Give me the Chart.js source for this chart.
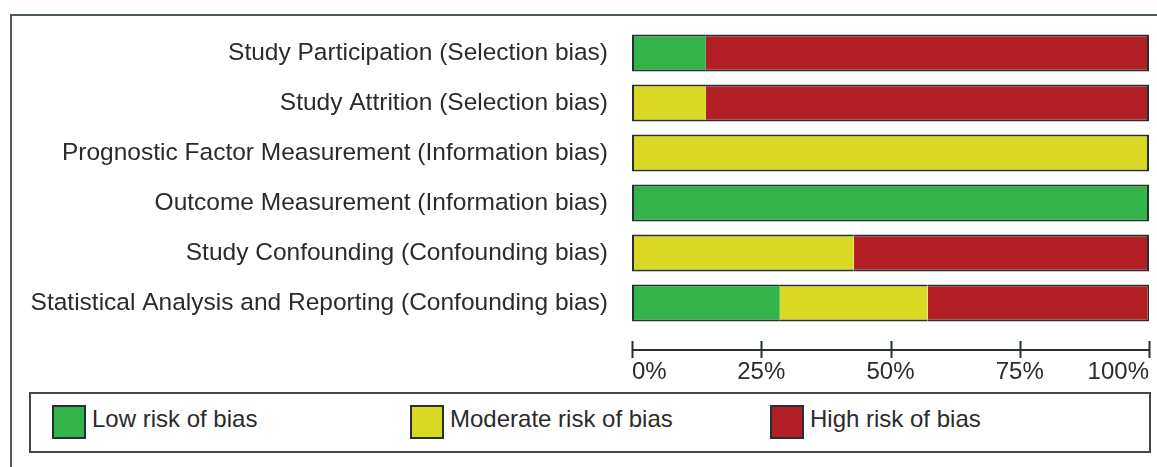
<!DOCTYPE html>
<html lang="en">
<head>
    <meta charset="UTF-8">
    <title>Risk of Bias Summary</title>
    <style>
        body {
            margin: 0;
            background-color: #ffffff;
            font-family: 'Liberation Sans', Arial, sans-serif;
            color: #2b2b2b;
            width: 1157px;
            height: 467px;
            overflow: hidden;
            position: relative;
        }
        .frame {
            position: absolute;
            left: 10px;
            top: 14px;
            width: 1200px;
            height: 500px;
            border: 2px solid #4d5a5a;
            box-sizing: border-box;
        }
        .chart-box {
            position: absolute;
            left: 0;
            top: 0;
        }
        .legend {
            position: absolute;
            left: 29px;
            top: 392px;
            width: 1122px;
            height: 61px;
            border: 2px solid #3f4a4a;
            box-sizing: border-box;
        }
        .legend-item {
            position: absolute;
            top: 11px;
            height: 33px;
            line-height: 33px;
            font-size: 24px;
            white-space: nowrap;
        }
        .legend-item span.swatch {
            position: absolute;
            left: 0;
            top: 0;
            width: 34px;
            height: 34px;
            border: 2px solid #263030;
            box-sizing: border-box;
        }
        .legend-item span.label {
            position: absolute;
            left: 40px;
            top: -3px;
        }
    </style>
    <script src="https://cdn.jsdelivr.net/npm/chart.js"></script>
</head>
<body>
    <div class="frame"></div>
    <div class="chart-box">
        <canvas id="biasChart" width="1157" height="392"></canvas>
    </div>
    <div class="legend" id="legend"></div>

    <script>
        const categories = [
            'Study Participation (Selection bias)',
            'Study Attrition (Selection bias)',
            'Prognostic Factor Measurement (Information bias)',
            'Outcome Measurement (Information bias)',
            'Study Confounding (Confounding bias)',
            'Statistical Analysis and Reporting (Confounding bias)'
        ];
        const lowRisk = [14.3, 0, 0, 100, 0, 28.6];
        const moderateRisk = [0, 14.3, 100, 0, 42.9, 28.6];
        const highRisk = [85.7, 85.7, 0, 0, 57.1, 42.9];
        const seriesNames = ['Low risk of bias', 'Moderate risk of bias', 'High risk of bias'];
        const seriesColors = ['#33b44a', '#d9d923', '#b21f25'];
        const tickValues = [0, 25, 50, 75, 100];

        const allSeries = [lowRisk, moderateRisk, highRisk];
        const lineColor = '#263030';

        // outline only the outer edges of each stacked bar
        function segmentBorder(ctx) {
            const i = ctx.dataIndex;
            const d = ctx.datasetIndex;
            const vals = allSeries.map(s => s[i]);
            if (!vals[d]) return 0;
            let first = vals.findIndex(v => v > 0);
            let last = vals.length - 1;
            while (last > 0 && !vals[last]) last--;
            return {
                top: 2,
                bottom: 2,
                left: d === first ? 2 : 0,
                right: d === last ? 2 : 0
            };
        }

        // axis line and tick marks sit below the bars, with a gap
        const axisLine = {
            id: 'axisLine',
            afterDraw(chart) {
                const x = chart.scales.x;
                const c = chart.ctx;
                const y = 350;
                c.save();
                c.strokeStyle = lineColor;
                c.lineWidth = 2;
                c.beginPath();
                c.moveTo(x.getPixelForValue(0), y);
                c.lineTo(x.getPixelForValue(100), y);
                tickValues.forEach(v => {
                    const px = Math.round(x.getPixelForValue(v)) + 0.5;
                    c.moveTo(px, y - 9);
                    c.lineTo(px, y + 8);
                });
                c.stroke();
                c.restore();
            }
        };

        const datasets = allSeries.map((data, k) => ({
            label: seriesNames[k],
            data: data,
            backgroundColor: seriesColors[k],
            borderColor: lineColor,
            borderWidth: segmentBorder,
            borderSkipped: false,
            categoryPercentage: 1.0,
            barPercentage: 0.74
        }));

        new Chart(document.getElementById('biasChart').getContext('2d'), {
            type: 'bar',
            data: { labels: categories, datasets: datasets },
            options: {
                indexAxis: 'y',
                responsive: false,
                animation: false,
                layout: { padding: { top: 28, right: 8, left: 0, bottom: 0 } },
                plugins: {
                    legend: { display: false },
                    tooltip: { enabled: false }
                },
                scales: {
                    x: {
                        stacked: true,
                        min: 0,
                        max: 100,
                        afterFit: scale => {
                            scale.height = 64;
                            scale.paddingLeft = 0;
                            scale.paddingRight = 0;
                        },
                        afterBuildTicks: scale => {
                            scale.ticks = tickValues.map(v => ({ value: v }));
                        },
                        grid: { display: false, drawTicks: false },
                        border: { display: false },
                        ticks: {
                            align: 'inner',
                            padding: 30,
                            color: '#2b2b2b',
                            font: { family: 'Liberation Sans', size: 24 },
                            maxRotation: 0,
                            callback: v => v + '%'
                        }
                    },
                    y: {
                        stacked: true,
                        afterFit: scale => {
                            scale.width = 632;
                            scale.paddingTop = 0;
                            scale.paddingBottom = 0;
                        },
                        grid: { display: false, drawTicks: false },
                        border: { display: false },
                        ticks: {
                            padding: 24,
                            color: '#2b2b2b',
                            font: { family: 'Liberation Sans', size: 24.5 }
                        }
                    }
                }
            },
            plugins: [axisLine]
        });

        const legend = document.getElementById('legend');
        const legendLeft = [21, 379, 739];
        seriesNames.forEach((name, k) => {
            const item = document.createElement('div');
            item.className = 'legend-item';
            item.style.left = legendLeft[k] + 'px';
            item.innerHTML = '<span class="swatch" style="background:' + seriesColors[k] + '"></span>' +
                '<span class="label">' + name + '</span>';
            legend.appendChild(item);
        });
    </script>
</body>
</html>
